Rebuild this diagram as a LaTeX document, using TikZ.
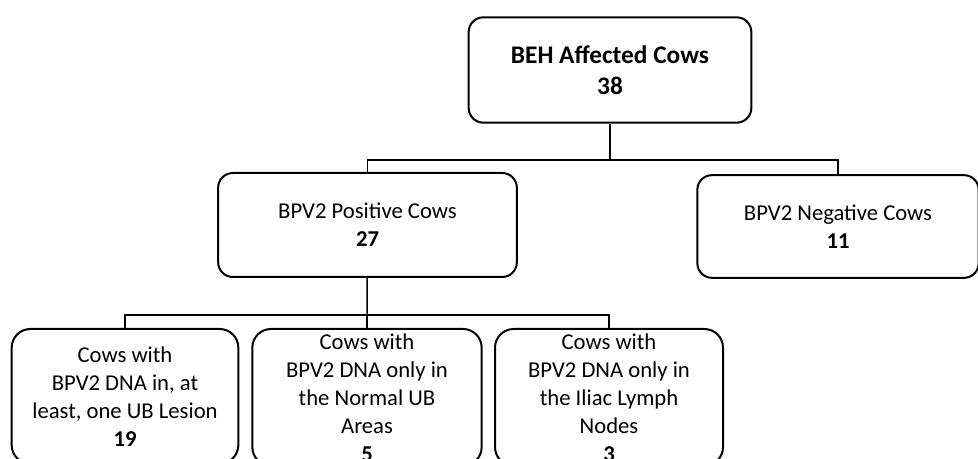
\documentclass[tikz,border=0pt]{standalone}
\usepackage{fontspec}
\setmainfont{Carlito}
\usetikzlibrary{shapes,arrows}
\tikzstyle{block} = [rectangle, draw, line width=1.5pt, align=center,
    rounded corners=11pt, font=\fontsize{17}{21}\selectfont]
\tikzstyle{line} = [draw, line width=1.1pt]
\begin{document}
\begin{tikzpicture}[x=0.75pt, y=-0.75pt]
        \useasboundingbox (0,0) rectangle (978,459);
        % Place nodes
        % 1. All affected cows
        \node [block, minimum width=212pt, minimum height=79pt,
               font=\fontsize{19}{23}\selectfont] (beh) at (610,70)
              {\textbf{BEH Affected Cows}\\ \textbf{38}};
        
        % 2. BPV2 positive / negative
        \node [block, minimum width=224pt, minimum height=78pt] (posi) at (367.5,225)
              {BPV2 Positive Cows\\ \textbf{27}};
        \node [block, minimum width=211pt, minimum height=77pt] (nega) at (838,226.5)
              {BPV2 Negative Cows\\ \textbf{11}};
        
        % 3. Where the DNA was found
        \node [block, anchor=north, minimum width=170pt, minimum height=101pt,
               rounded corners=14pt] (lesi) at (125,328)
              {Cows with\\ BPV2 DNA in, at\\ least, one UB Lesion\\ \textbf{19}};
        \node [block, anchor=north, minimum width=172pt, minimum height=101pt,
               rounded corners=14pt] (norm) at (367,328)
              {Cows with\\ BPV2 DNA only in\\ the Normal UB\\ Areas\\ \textbf{5}};
        \node [block, anchor=north, minimum width=171pt, minimum height=101pt,
               rounded corners=14pt] (ilia) at (609,328)
              {Cows with\\ BPV2 DNA only in\\ the Iliac Lymph\\ Nodes\\ \textbf{3}};
        
        % virtual points where the edges split
        \coordinate (spl1) at (610,160);
        \coordinate (spl2) at (367,315);
    
        % Draw edges
        \path [line] (beh) -- (spl1);
        \path [line] (posi.north) |- (spl1) -| (nega.north);
        \path [line] (posi) -- (spl2);
        \path [line] (lesi.north) |- (spl2) -| (ilia.north);
        \path [line] (spl2) -- (norm.north);
        
      \end{tikzpicture}
\end{document}
